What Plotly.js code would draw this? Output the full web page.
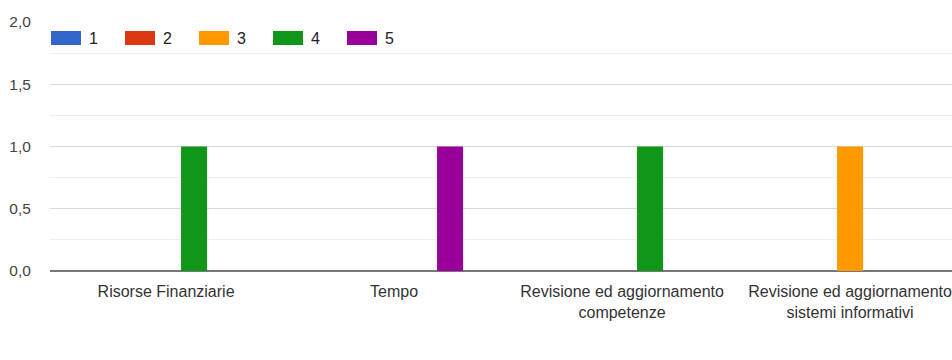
<!DOCTYPE html>
<html>
<head>
<meta charset="utf-8">
<script src="https://cdn.plot.ly/plotly-3.0.1.min.js"></script>
<style>html,body{margin:0;padding:0;background:#fff;overflow:hidden}#chart{width:952px;height:360px}</style>
</head>
<body>
<div id="chart"></div>
<script>
const categories = [
  "Risorse Finanziarie",
  "Tempo",
  "Revisione ed aggiornamento<br>competenze",
  "Revisione ed aggiornamento<br>sistemi informativi"
];
const seriesNames = ["1", "2", "3", "4", "5"];
const seriesColors = ["#3366cc", "#dc3912", "#ff9900", "#109618", "#990099"];
const values1 = [0, 0, 0, 0];
const values2 = [0, 0, 0, 0];
const values3 = [0, 0, 0, 1];
const values4 = [1, 0, 1, 0];
const values5 = [0, 1, 0, 0];
const yTicks = [0, 0.5, 1, 1.5, 2];

const allValues = [values1, values2, values3, values4, values5];
const traces = allValues.map((v, i) => ({
  type: "bar",
  name: seriesNames[i],
  x: categories.map((c, k) => k),
  y: v,
  marker: {color: seriesColors[i], line: {width: 0}},
  showlegend: false,
  hoverinfo: "skip"
}));

const shapes = [];
const annotations = [];
seriesNames.forEach((n, i) => {
  shapes.push({
    type: "rect", xref: "paper", yref: "paper",
    xsizemode: "pixel", ysizemode: "pixel", xanchor: 0, yanchor: 1,
    x0: 1 + i * 74, x1: 31 + i * 74, y0: -23, y1: -9,
    fillcolor: seriesColors[i], line: {width: 0}, layer: "above"
  });
  annotations.push({
    xref: "paper", yref: "paper", x: 0, y: 1,
    xanchor: "left", yanchor: "middle",
    xshift: 37 + i * 74, yshift: -16,
    text: n, showarrow: false,
    font: {family: "Liberation Sans, Arial, sans-serif", size: 16, color: "#222"}
  });
});

const layout = {
  width: 952, height: 360,
  margin: {l: 50, r: 0, t: 22, b: 89},
  paper_bgcolor: "#fff", plot_bgcolor: "#fff",
  separators: ",.",
  barmode: "group",
  bargap: 0.386,
  bargroupgap: 0.07,
  showlegend: false,
  font: {family: "Liberation Sans, Arial, sans-serif", size: 16, color: "#222"},
  xaxis: {
    type: "linear",
    range: [-0.509, 3.447],
    tickmode: "array",
    tickvals: categories.map((c, k) => k),
    ticktext: categories,
    showgrid: false, zeroline: false, showline: false,
    ticks: "outside", ticklen: 6, tickcolor: "rgba(0,0,0,0)",
    ticklabeloverflow: "allow",
    tickfont: {size: 16, color: "#333"},
    fixedrange: true
  },
  yaxis: {
    range: [0, 2],
    tickmode: "array",
    tickvals: yTicks,
    ticktext: yTicks.map(t => t.toFixed(1).replace(".", ",")),
    showgrid: true, gridcolor: "#d9d9d9", gridwidth: 1,
    minor: {tickmode: "array", tickvals: [0.25, 0.75, 1.25, 1.75], showgrid: true, gridcolor: "#efefef", gridwidth: 1},
    zeroline: true, zerolinecolor: "#777", zerolinewidth: 2,
    ticks: "outside", ticklen: 15, tickcolor: "rgba(0,0,0,0)",
    tickfont: {size: 15.5, color: "#444"},
    fixedrange: true
  },
  shapes: shapes,
  annotations: annotations
};

Plotly.newPlot("chart", traces, layout, {displayModeBar: false, staticPlot: true});
</script>
</body>
</html>
